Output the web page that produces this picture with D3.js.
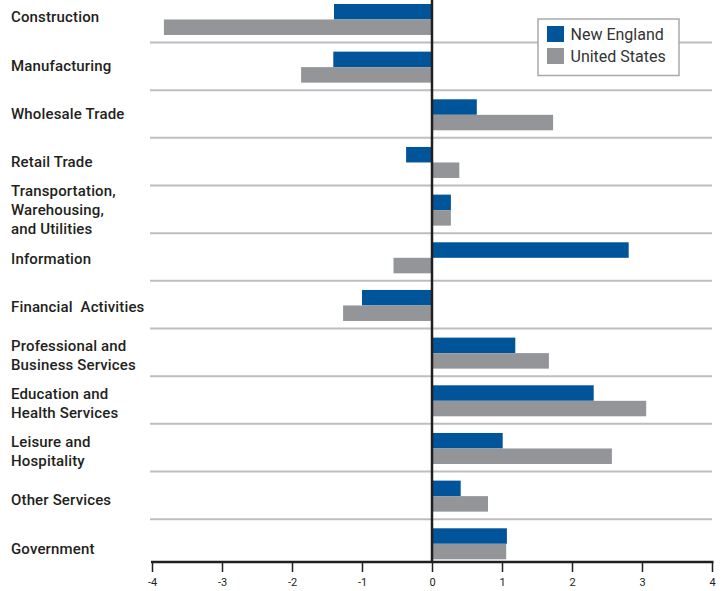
<!DOCTYPE html>
<html>
<head>
<meta charset="utf-8">
<script src="https://cdn.jsdelivr.net/npm/d3@7"></script>
<style>
  body { margin: 0; background: #fff; }
  svg { display: block; font-family: Roboto, "Liberation Sans", sans-serif; }
</style>
</head>
<body>
<div id="chart"></div>
<script>
// sectors, top to bottom ("\n" = line break in the label)
var categories = [
  "Construction",
  "Manufacturing",
  "Wholesale Trade",
  "Retail Trade",
  "Transportation,\nWarehousing,\nand Utilities",
  "Information",
  "Financial  Activities",
  "Professional and\nBusiness Services",
  "Education and\nHealth Services",
  "Leisure and\nHospitality",
  "Other Services",
  "Government"
];
var seriesNames = ["New England", "United States"];
var newEngland   = [-1.40, -1.41, 0.64, -0.37, 0.27, 2.81, -1.00, 1.19, 2.31, 1.01, 0.41, 1.07];
var unitedStates = [-3.83, -1.87, 1.73,  0.39, 0.27, -0.55, -1.27, 1.67, 3.06, 2.57, 0.80, 1.06];
var xTicks = [-4, -3, -2, -1, 0, 1, 2, 3, 4];

var colors = {"New England": "#00559a", "United States": "#939598"};

var width = 726, height = 591;

var svg = d3.select("#chart").append("svg")
    .attr("width", width)
    .attr("height", height);

var x = d3.scaleLinear()
    .domain([-4, 4])
    .range([152, 712]);

var y = d3.scaleBand()
    .domain(categories)
    .range([-5.2, 566.8]);

var ySub = d3.scaleBand()
    .domain(seriesNames)
    .range([0, y.bandwidth()])
    .paddingOuter(0.537)
    .align(0.55);

// labels sit on a slightly looser grid than the bars
var yLabel = d3.scalePoint()
    .domain(categories)
    .range([16.7, 548]);

var axisY = 562;

// separator lines between rows
svg.append("g")
  .selectAll("line")
  .data(categories.slice(1))
  .enter().append("line")
    .attr("x1", 150)
    .attr("x2", 712)
    .attr("y1", function(d) { return y(d); })
    .attr("y2", function(d) { return y(d); })
    .style("stroke", "#bcbec0")
    .style("stroke-width", 2);

// bars
var rows = categories.map(function(c, i) {
  return {cat: c, values: [
    {name: "New England", value: newEngland[i]},
    {name: "United States", value: unitedStates[i]}
  ]};
});

svg.append("g")
  .selectAll("g")
  .data(rows)
  .enter().append("g")
    .attr("transform", function(d) { return "translate(0," + y(d.cat) + ")"; })
  .selectAll("rect")
  .data(function(d) { return d.values; })
  .enter().append("rect")
    .attr("x", function(d) { return x(Math.min(0, d.value)); })
    .attr("width", function(d) { return Math.abs(x(d.value) - x(0)); })
    .attr("y", function(d) { return ySub(d.name); })
    .attr("height", ySub.bandwidth())
    .style("fill", function(d) { return colors[d.name]; });

// category labels
var lineH = 19;
var labels = svg.append("g")
  .selectAll("text")
  .data(categories)
  .enter().append("text")
    .attr("x", 11)
    .attr("y", function(d) {
      var n = d.split("\n").length;
      return yLabel(d) + 5.5 - (n - 1) * lineH / 2;
    })
    .style("font-size", "15px")
    .style("letter-spacing", "0.15px")
    .style("font-weight", 500)
    .style("fill", "#231f20");

labels.selectAll("tspan")
  .data(function(d) { return d.split("\n"); })
  .enter().append("tspan")
    .attr("x", 11)
    .attr("dy", function(d, i) { return i ? lineH : 0; })
    .style("white-space", "pre")
    .text(function(d) { return d; });

// zero line
svg.append("line")
  .attr("x1", x(0))
  .attr("x2", x(0))
  .attr("y1", 0)
  .attr("y2", axisY)
  .style("stroke", "#231f20")
  .style("stroke-width", 2.5);

// x axis
var xAxis = d3.axisBottom(x)
    .tickValues(xTicks)
    .tickSize(10)
    .tickSizeOuter(0)
    .tickFormat(function(d) { return d; });

var gx = svg.append("g")
    .attr("transform", "translate(0," + axisY + ")")
    .call(xAxis);

gx.select(".domain")
  .attr("d", "M" + (x(-4) - 1) + ",0H" + (x(4) + 1.5))
  .style("stroke", "#231f20")
  .style("stroke-width", 2.5);

gx.selectAll(".tick line")
  .style("stroke", "#231f20")
  .style("stroke-width", 1.5);

gx.selectAll(".tick text")
  .attr("y", 16)
  .style("font-size", "11px")
  .style("font-family", "Roboto, 'Liberation Sans', sans-serif")
  .style("fill", "#231f20");

// legend
var legend = svg.append("g")
    .attr("transform", "translate(538,19)");

legend.append("rect")
  .attr("width", 141)
  .attr("height", 56.5)
  .style("fill", "#fff")
  .style("stroke", "#a7a9ac")
  .style("stroke-width", 1.5);

var items = legend.selectAll(".item")
  .data(seriesNames)
  .enter().append("g")
    .attr("class", "item")
    .attr("transform", function(d, i) { return "translate(9," + (7 + i * 22) + ")"; });

items.append("rect")
  .attr("width", 17)
  .attr("height", 16)
  .style("fill", function(d) { return colors[d]; });

items.append("text")
  .attr("x", 23.5)
  .attr("y", 14)
  .style("font-size", "16px")
  .style("fill", "#333")
  .text(function(d) { return d; });
</script>
</body>
</html>
